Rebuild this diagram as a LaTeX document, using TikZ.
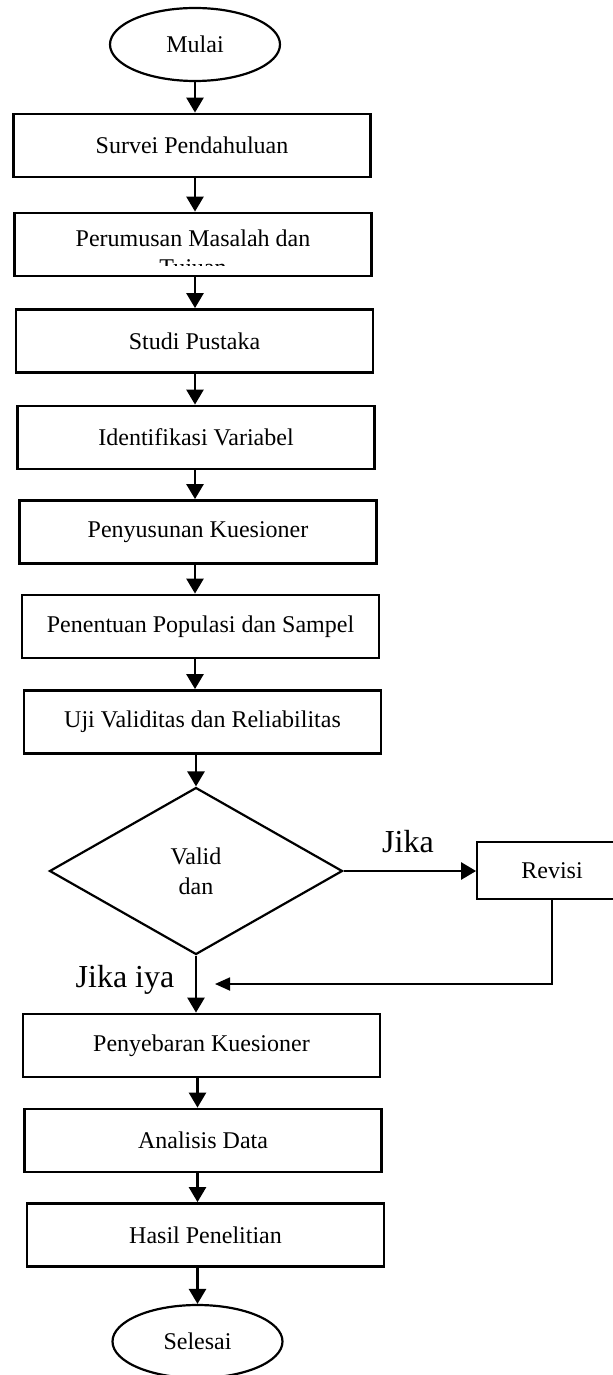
\documentclass[tikz,border=0pt]{standalone}
\usepackage{fontspec}
\setmainfont{Liberation Serif}
\usetikzlibrary{shapes.geometric,arrows.meta}

\begin{document}
\begin{tikzpicture}[x=0.5pt,y=-0.5pt,
  every node/.style={font=\fontsize{12}{14.5}\selectfont, inner sep=0pt},
  proses/.style={draw, line width=1.4pt, minimum width=178.5pt, minimum height=31.5pt},
  terminal/.style={draw, ellipse, line width=1.1pt, minimum width=85pt, minimum height=36.5pt},
  putusan/.style={draw, diamond, line width=1.1pt, aspect=1.75,
    minimum width=146.5pt, minimum height=83.5pt, align=center,
    font=\fontsize{12}{15}\selectfont},
  revisibox/.style={draw, line width=0.9pt, minimum width=75pt, minimum height=28.5pt},
  ket/.style={font=\fontsize{16}{19}\selectfont},
  panah/.style={line width=1.3pt, -{Triangle[width=8.5pt,length=7.5pt]}},
  tipis/.style={line width=0.9pt, -{Triangle[width=6.5pt,length=7.5pt]}}]
  \useasboundingbox (0,0) rectangle (612,1375);
  \coordinate (poros) at (195,0);

  \node[terminal] (mulai) at (195,44.5) {Mulai};
  \node[proses] (survei) at (192,145.5) {Survei Pendahuluan};
  \node[proses] (rumus) at (193,244.5) {};
  \begin{scope}
    \clip (rumus.north west) rectangle (rumus.east |- 0,266);
    \node[anchor=base] (rumusisi) at (193,247) {%
      \parbox[t]{170pt}{\centering Perumusan Masalah dan\\ Tujuan}};
  \end{scope}
  \node[proses] (studi) at (194.5,341) {Studi Pustaka};
  \node[proses] (identifikasi) at (196,437.5) {Identifikasi Variabel};
  \node[proses] (susun) at (198,532) {Penyusunan Kuesioner};
  \node[proses] (populasi) at (200.5,626.5) {Penentuan Populasi dan Sampel};
  \node[proses] (uji) at (202.5,722) {Uji Validitas dan Reliabilitas};
  \node[putusan] (valid) at (196,871) {Valid\\dan};
  \node[revisibox] (revisi) at (552,870.5) {Revisi};
  \node[ket] (tidak) at (408,842) {Jika};
  \node[ket] (ya) at (125,980) {Jika iya};
  \node[proses] (sebar) at (201.5,1045.5) {Penyebaran Kuesioner};
  \node[proses] (analisis) at (203,1140.5) {Analisis Data};
  \node[proses] (hasil) at (205.5,1235) {Hasil Penelitian};
  \node[terminal] (selesai) at (197.5,1341.5) {Selesai};
  \coordinate (balik) at (215,984);

  \draw[panah] (mulai.south) -- (mulai.south |- survei.north);
  \draw[panah] (survei.south -| poros) -- (rumus.north -| poros);
  \draw[panah] (rumus.south -| poros) -- (studi.north -| poros);
  \draw[panah] (studi.south -| poros) -- (identifikasi.north -| poros);
  \draw[panah] (identifikasi.south -| poros) -- (susun.north -| poros);
  \draw[panah] (susun.south -| poros) -- (populasi.north -| poros);
  \draw[panah] (populasi.south -| poros) -- (uji.north -| poros);
  \draw[panah] (uji.south -| valid.north) -- (valid.north);
  \draw[panah] (valid.east) -- (valid.east -| revisi.west);
  \draw[tipis] (revisi.south) |- (balik);
  \draw[panah] (valid.south) -- (valid.south |- sebar.north);
  \draw[panah] (sebar.south -| selesai.north) -- (analisis.north -| selesai.north);
  \draw[panah] (analisis.south -| selesai.north) -- (hasil.north -| selesai.north);
  \draw[panah] (hasil.south -| selesai.north) -- (selesai.north);
\end{tikzpicture}
\end{document}
